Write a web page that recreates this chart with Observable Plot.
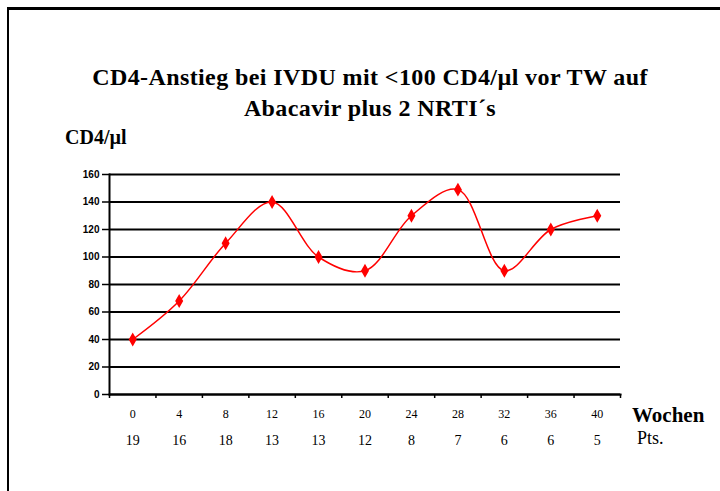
<!DOCTYPE html>
<html><head><meta charset="utf-8">
<script src="https://cdn.jsdelivr.net/npm/d3@7"></script>
<script src="https://cdn.jsdelivr.net/npm/@observablehq/plot@0.6"></script>
<style>
html,body{margin:0;padding:0;background:#fff;}
#wrap{position:relative;width:720px;height:491px;overflow:hidden;background:#fff;}
#frame{position:absolute;left:7px;top:7px;right:-5px;bottom:-5px;border-top:3px solid #000;border-left:2px solid #000;}
.t{position:absolute;font-family:"Liberation Serif","Times New Roman",serif;color:#000;white-space:nowrap;}
#title{left:0;width:740px;top:62px;text-align:center;font-weight:bold;font-size:24px;line-height:31px;letter-spacing:0.4px;}
#ylab{left:65px;top:126px;font-weight:bold;font-size:20px;}
#wochen{left:632px;top:403px;font-weight:bold;font-size:21px;}
#pts{left:637px;top:428px;font-size:18px;}
#chart{position:absolute;left:0;top:0;}
</style></head>
<body>
<div id="wrap">
<div id="chart"></div>
<div id="frame"></div>
<div class="t" id="title">CD4-Anstieg bei IVDU mit &lt;100 CD4/µl vor TW auf<br>Abacavir plus 2 NRTI´s</div>
<div class="t" id="ylab">CD4/µl</div>
<div class="t" id="wochen">Wochen</div>
<div class="t" id="pts">Pts.</div>
</div>
<script>
const weeks = [0, 4, 8, 12, 16, 20, 24, 28, 32, 36, 40];
const cd4 = [40, 68, 110, 140, 100, 90, 130, 149, 90, 120, 130];
const pts = ["19", "16", "18", "13", "13", "12", "8", "7", "6", "6", "5"];
const yTicks = [0, 20, 40, 60, 80, 100, 120, 140, 160];

const data = weeks.map((w, i) => ({week: w, cd4: cd4[i], pts: pts[i]}));
const boundaries = weeks.map(w => w - 2).concat([weeks[weeks.length - 1] + 2]);

const chart = Plot.plot({
  width: 720,
  height: 491,
  marginTop: 174,
  marginBottom: 97,
  marginLeft: 109,
  marginRight: 100,
  style: {background: "transparent", fontFamily: "Liberation Sans, Arial, sans-serif"},
  x: {type: "linear", domain: [boundaries[0], boundaries[boundaries.length - 1]], axis: null},
  y: {domain: [0, 160], axis: null},
  marks: [
    Plot.gridY(yTicks, {stroke: "#000", strokeOpacity: 1, strokeWidth: 2}),
    Plot.axisY(yTicks, {tickSize: 7, tickPadding: 3, fontSize: 10, fontWeight: "bold", stroke: "#000", strokeWidth: 1.5, label: null, fill: "#000"}),
    Plot.axisX(boundaries, {tickSize: 4, tickFormat: () => "", stroke: "#000", strokeWidth: 1.5, label: null}),
    Plot.frame({anchor: "left", stroke: "#000", strokeWidth: 2}),
    Plot.frame({anchor: "bottom", stroke: "#000", strokeWidth: 2}),
    Plot.text(data, {x: "week", text: d => String(d.week), frameAnchor: "bottom", dy: 23, fontSize: 12, fontFamily: "Liberation Serif, serif", fill: "#000"}),
    Plot.text(data, {x: "week", text: "pts", frameAnchor: "bottom", dy: 50, fontSize: 14, fontFamily: "Liberation Serif, serif", fill: "#000"}),
    Plot.line(data, {x: "week", y: "cd4", curve: "catmull-rom", stroke: "#ff0000", strokeWidth: 1.5}),
    Plot.dot(data, {x: "week", y: "cd4", symbol: "diamond", fill: "#ff0000", stroke: "#ff0000", r: 3.3})
  ]
});
document.getElementById("chart").appendChild(chart);
</script>
</body></html>
